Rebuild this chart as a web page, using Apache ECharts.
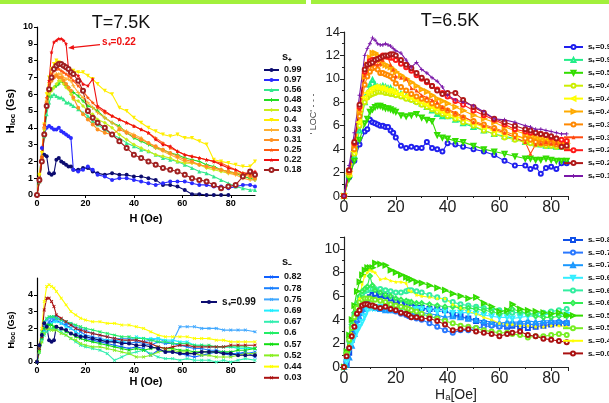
<!DOCTYPE html>
<html>
<head>
<meta charset="utf-8">
<script src="https://cdn.jsdelivr.net/npm/echarts@6/dist/echarts.min.js"></script>
<style>
html, body { margin: 0; padding: 0; background: #fff; }
#chart { width: 609px; height: 403px; }
</style>
</head>
<body>
<div id="chart"></div>
<script>
// ---------- top left: T=7.5K, s+ ----------
const hTL = [0,1,2,3,4,5,6,7,8,9,10,11,12,13,14,15,17,19,21,23,25,28,31,34,37,40,43,46,49,52,55,58,61,64,67,70,73,76,79,82,85,88,90];
const tlLabels = ['0.99','0.97','0.56','0.48','0.43','0.4','0.33','0.31','0.25','0.22','0.18'];
const tl099 = [0,1.0,2.0,2.4,2.3,1.3,1.2,1.3,2.1,2.2,2.0,1.9,1.8,1.7,1.7,1.5, 1.5,1.6,1.6,1.4,1.3, 1.2,1.3,1.2,1.2,1.1,1.1,1.0,0.9,0.6,0.6,0.5,0.3,0.05,0.05,0.0,0.0,0.0,0.0,null,null,null, null];
const tl097 = [0,1.0,2.8,3.6,4.0,4.1,4.0,3.9,3.9,4.0,3.8,3.7,3.6,3.5,3.4,1.5, 1.4,1.5,1.7,1.5,1.2, 1.1,0.9,1.0,1.0,0.9,0.8,0.7,0.6,0.7,0.8,0.8,0.8,0.7,0.6,0.6,0.5,0.5,0.4,0.5,0.6,0.6, 0.5];
const tl056 = [0,0.8,2.0,3.5,4.8,5.5,5.9,6.0,5.9,5.8,5.8,5.7,5.5,5.5,5.4,5.3, 5.1,4.9,4.7,4.4,4.2, 3.9,3.6,3.4,3.1,2.9,2.7,2.6,2.4,2.2,2.1,2.0,1.8,1.6,1.4,1.3,1.1,0.9,0.7,0.5,0.4,0.3, 0.3];
const tl048 = [0,0.9,2.1,3.7,5.2,5.9,6.3,6.4,6.5,6.6,6.8,6.7,6.5,6.4,6.2,6.1, 5.9,5.6,5.3,5.2,5.0, 4.6,4.3,4.1,3.7,3.4,3.2,3.0,2.8,2.7,2.5,2.4,2.2,2.1,2.0,1.8,1.7,1.5,1.4,1.3,1.1,1.0, 0.9];
const tl043 = [0,1.2,2.3,3.9,5.4,6.0,6.2,6.4,6.6,6.8,6.8,6.6,6.4,6.3,6.0,5.7, 5.6,5.3,5.0,4.8,4.5, 4.3,4.0,3.6,3.3,3.0,2.8,2.6,2.4,2.3,2.2,2.0,1.9,1.9,1.8,1.6,1.5,1.4,1.3,1.3,1.3,1.2, 1.2];
const tl040 = [0,1.2,2.5,4.2,6.0,7.0,7.5,7.8,8.0,7.9,7.8,7.6,7.6,7.5,7.4,7.4, 7.3,7.3,7.1,6.9,6.6, 6.2,6.0,5.2,5.0,4.6,4.3,4.0,3.8,3.6,3.5,3.6,3.4,3.4,3.2,3.0,2.1,2.0,1.9,1.8,1.7,1.7, 2.0];
const tl033 = [0,1.0,2.2,4.0,5.6,6.4,6.9,7.1,7.2,7.2,7.2,7.0,6.9,6.9,6.8,6.5, 6.1,5.8,5.5,5.2,4.9, 4.6,4.3,4.0,3.8,3.6,3.4,3.1,2.8,2.6,2.4,2.2,2.0,1.9,1.8,1.7,1.6,1.5,1.3,1.2,1.0,0.9, 0.9];
const tl031 = [0,1.0,2.2,4.0,5.5,6.3,6.8,7.0,7.1,7.0,7.0,6.8,6.6,6.4,6.2,5.8, 5.2,4.8,4.5,4.2,3.9, 3.7,3.6,3.9,3.7,3.5,3.3,3.1,2.9,2.7,2.5,2.3,2.1,2.0,1.8,1.7,1.6,1.5,1.4,1.3,1.2,1.1, 1.0];
const tl025 = [0,1.0,2.3,4.2,5.8,6.7,7.2,7.4,7.5,7.5,7.4,7.3,7.2,7.1,7.0,6.8, 6.5,6.2,5.8,5.5,5.2, 4.9,4.7,4.5,4.3,4.1,3.9,3.7,3.4,3.1,2.8,2.6,2.4,2.3,2.2,2.1,2.0,1.9,1.7,1.5,1.3,1.2, 1.3];
const tl022 = [0,0.8,2.0,3.6,5.4,6.8,8.5,9.1,9.2,9.3,9.3,9.2,9.0,7.5,7.4,7.3, 7.1,6.6,6.5,6.9,5.3, 5.0,4.7,4.5,4.3,4.1,3.9,3.7,3.3,3.0,2.9,2.6,2.4,2.3,2.2,2.1,2.0,1.8,1.6,1.5,1.3,1.3, 1.4];
const tl018 = [0,0.9,2.0,3.6,5.3,6.3,7.0,7.5,7.7,7.8,7.8,7.7,7.6,7.5,7.3,7.2, 6.8,6.2,5.0,4.6,4.3, 4.0,3.6,3.2,2.8,2.4,2.2,2.0,1.8,1.6,1.5,1.4,1.2,1.0,0.9,0.8,0.6,0.4,0.5,0.6,1.1,1.4, 1.2];
const tlValues = [tl099, tl097, tl056, tl048, tl043, tl040, tl033, tl031, tl025, tl022, tl018];

// ---------- top right: T=6.5K, s+ ----------
const hTR = [0,2,4,6,8, 9,10,11,12,13,14,15,16,17,18,19,20, 22,24,26,28,30,32,34,36,38,40, 43,46,50,54,58,62,66,70,72,74,76,78,80,82,84,86];
const trLabels = ['s₊=0.9','s₊=0.9','s₊=0.5','s₊=0.4','s₊=0.4','s₊=0.4','s₊=0.3','s₊=0.3','s₊=0.2','s₊=0.2','s₊=0.1'];
const tr1 = [0,1.6,3.0,4.4,5.5, 5.7,6.5,6.3,6.2,6.1,6.0,6.0,5.9,5.9,5.6,5.4,5.0, 4.3,4.1,4.2,4.1,4.1,4.6,4.1,4.0,3.8,4.5, 4.4,4.2,4.0,3.8,3.5,3.0,2.6,2.6,2.3,2.5,1.9,2.4,2.5,2.3,2.8,2.8];
const tr2 = [0,1.8,3.4,5.6,8.0, 8.8,9.5,9.9,9.5,9.3,9.3,9.4,9.3,9.2,9.2,9.0,8.9, 8.7,8.5,8.3,8.1,7.9,7.6,7.3,7.0,6.8,6.8, 6.5,6.2,5.9,5.6,5.3,5.1,4.9,4.6,4.6,4.5,4.4,4.3,4.3,4.2,4.2,4.2];
const tr3 = [0,1.5,3.0,4.8,6.2, 6.6,7.2,7.4,7.6,7.7,7.7,7.6,7.5,7.5,7.4,7.3,7.2, 6.9,6.8,6.9,7.0,6.7,6.5,6.4,5.2,5.0,4.9, 4.7,4.6,4.3,4.0,3.8,3.6,3.4,3.2,3.2,3.1,3.1,3.2,3.1,3.0,3.0,3.0];
const tr4 = [0,1.8,3.6,6.0,8.0, 8.4,8.6,8.7,8.8,8.9,8.9,8.9,8.8,8.8,8.7,8.7,8.6, 8.5,8.3,8.2,8.0,7.8,7.6,7.4,7.2,7.0,6.8, 6.6,6.3,6.0,5.6,5.3,5.0,4.8,4.6,4.5,4.4,4.4,4.3,4.3,4.2,4.2,4.1];
const tr5 = [0,1.9,3.8,6.3,8.4, 8.8,9.0,9.2,9.3,9.3,9.2,9.2,9.1,9.0,9.0,8.9,8.8, 8.7,8.5,8.4,8.2,8.0,7.8,7.6,7.4,7.2,7.0, 6.8,6.6,6.2,5.9,5.6,5.3,5.1,4.9,4.8,4.7,4.7,4.6,4.6,4.5,4.5,4.6];
const tr6 = [0,2.1,4.3,7.2,10.2, 11.2,11.8,12.2,12.2,12.0,11.6,11.3,11.2,11.1,11.0,10.8,10.6, 10.3,10.0,9.7,9.4,9.1,8.9,8.6,8.3,8.1,7.9, 7.6,7.3,6.9,6.6,6.3,5.9,5.6,5.3,5.2,5.0,4.9,4.9,4.8,4.7,4.6,4.5];
const tr7 = [0,2.0,4.0,6.8,9.5, 10.2,10.6,10.9,11.0,10.8,10.5,10.5,10.4,10.3,10.2,10.0,9.6, 9.3,9.0,8.7,8.5,8.3,8.2,7.9,7.7,7.5,7.3, 7.0,6.7,6.4,6.1,5.8,5.5,5.2,4.9,4.8,4.6,4.5,4.5,4.5,4.4,4.3,4.1];
const tr8 = [0,2.2,4.4,7.4,10.3, 11.0,11.5,11.4,11.3,11.2,11.3,11.6,12.0,11.8,11.2,10.8,10.2, 10.1,10.0,9.2,9.0,8.6,8.4,8.2,8.0,7.6,7.4, 7.1,6.8,6.3,6.0,5.7,5.4,5.0,4.6,3.6,4.4,4.5,4.6,4.5,4.5,4.4,4.3];
const tr9 = [0,2.2,4.5,7.6,10.6, 11.2,11.5,11.6,11.6,11.7,11.8,12.0,11.9,11.9,11.8,11.8,11.6, 11.3,11.0,10.7,10.3,10.0,9.7,9.4,9.1,8.8,8.5, 8.1,7.8,7.3,6.9,6.5,6.1,5.7,5.5,5.4,5.4,5.3,5.2,5.0,4.9,4.8,4.7];
const tr10 = [0,2.2,4.6,7.8,10.8, 11.2,11.3,11.4,11.6,11.7,11.8,11.9,12.0,12.0,12.1,12.1,12.0, 11.6,11.2,10.9,10.5,10.1,9.8,9.4,9.0,8.7,8.8, 8.8,8.2,7.6,7.1,6.6,6.3,6.0,5.7,5.6,5.4,5.3,5.2,5.1,4.9,4.2,4.3];
const tr11 = [0,2.6,5.4,8.6,12.0, 12.6,13.0,13.5,13.3,13.0,12.9,12.9,13.0,12.9,12.8,12.6,12.4, 12.2,11.6,11.0,11.4,10.8,10.5,10.1,9.8,9.3,8.6, 8.2,8.0,7.7,7.2,6.6,6.5,6.3,6.0,5.9,5.7,5.7,5.6,5.5,5.4,5.3,5.3];
const trValues = [tr1, tr2, tr3, tr4, tr5, tr6, tr7, tr8, tr9, tr10, tr11];

// ---------- bottom left: T=7.5K, s- ----------
const hBL = [0,1,2,3,4,5,6,7,8, 10,12,14,16,18,20, 23,26,29,32,35,38,41,44,47,50,53,56,59,62,65,68,71,74,77,80,83,86, 90];
const blLabels = ['0.82','0.78','0.75','0.69','0.67','0.6','0.57','0.52','0.44','0.03'];
const bl082 = [0,0.8,1.5,2.0,2.2,2.3,2.4,2.5,2.5, 2.3,2.2,2.0,1.8,1.6,1.4, 1.3,1.2,1.1,1.0,0.9,0.8,0.9,0.8,0.4,0.7,0.6,0.6,0.5,0.4,0.3,0.4,0.5,0.6,0.5,0.4,0.5,0.6, 0.3];
const bl078 = [0,0.7,1.4,1.9,2.1,2.4,2.6,2.7,2.7, 2.5,2.3,2.2,2.0,1.8,1.6, 1.5,1.4,1.3,1.3,1.2,1.1,1.2,1.1,1.0,1.2,1.1,1.1,1.0,0.9,0.8,0.8,0.7,0.7,0.6,0.5,0.5,0.5, 0.6];
const bl075 = [0,0.8,1.6,2.2,2.5,2.6,2.6,2.6,2.5, 2.5,2.4,2.3,2.1,2.0,1.9, 1.7,1.6,1.5,1.4,1.4,1.4,1.3,1.2,1.3,1.4,1.2,1.2,2.1,2.1,2.1,2.0,2.0,2.0,1.9,1.9,1.9,1.9, 1.8];
const bl069 = [0,0.6,1.3,1.8,2.1,2.2,2.3,2.4,2.4, 2.3,2.1,2.0,1.8,1.6,1.5, 1.4,1.3,1.3,1.2,1.2,1.3,1.5,1.4,1.4,1.4,1.3,1.3,1.2,1.2,1.0,1.0,0.9,0.9,0.9,0.9,0.8,0.8, 0.8];
const bl067 = [0,0.6,1.2,1.6,1.8,1.9,2.0,2.0,2.0, 1.8,1.6,1.4,1.2,1.0,0.9, 0.8,0.7,0.5,0.1,0.3,0.5,0.6,0.7,0.5,0.3,0.2,0.2,0.1,0.2,0.1,0.1,0.1,0.0,0.1,0.0,0.1,0.2, 0.1];
const bl060 = [0,0.9,1.8,2.4,2.6,2.7,2.7,2.7,2.6, 2.5,2.4,2.3,2.2,2.1,2.0, 1.9,1.8,1.7,1.6,1.5,1.5,1.4,1.4,1.3,1.2,1.2,1.1,1.1,1.1,1.0,1.0,1.0,0.9,0.9,0.9,0.9,0.9, 0.8];
const bl057 = [0,0.7,1.4,2.0,2.2,2.2,2.2,2.1,2.1, 2.0,1.8,1.7,1.5,1.4,1.3, 1.2,1.1,1.0,0.9,0.8,0.7,0.8,0.7,0.8,0.9,0.8,0.8,0.7,0.7,0.6,0.6,0.6,0.6,0.6,0.6,0.7,0.7, 0.8];
const bl052 = [0,0.6,1.2,1.7,2.0,2.0,1.9,1.9,1.9, 1.7,1.6,1.4,1.3,1.1,1.0, 0.9,0.9,0.8,0.7,0.6,0.5,0.3,0.3,0.4,0.6,0.7,0.7,0.6,0.6,0.5,0.4,0.4,0.3,0.3,0.3,0.4,0.5, 0.5];
const bl044 = [0,1.0,2.0,3.6,4.5,4.6,4.5,4.4,4.2, 3.8,3.4,3.0,2.8,2.6,2.5, 2.4,2.4,2.3,2.3,2.2,2.2,2.1,2.0,1.8,1.6,1.5,1.5,1.5,1.5,1.4,1.4,1.4,1.3,1.3,1.2,1.2,1.2, 1.2];
const bl003 = [0,0.8,1.5,3.1,3.8,3.8,3.6,3.3,2.8, 2.6,2.4,2.2,2.0,1.9,1.8, 1.7,1.6,1.5,1.4,1.3,1.3,1.3,1.2,1.1,0.9,0.8,0.9,1.0,1.0,0.9,0.9,0.9,0.9,0.9,1.0,1.0,1.0, 1.0];
const blValues = [bl082, bl078, bl075, bl069, bl067, bl060, bl057, bl052, bl044, bl003];
const blPlus099 = [0,1.0,1.6,2.3,2.1,1.3,1.2,1.3,2.1, 2.0,1.9,1.7,1.6,1.5,1.5, 1.4,1.3,1.2,1.2,1.1,1.1,1.0,1.0,0.9,0.8,0.6,0.6,0.5,0.5,0.5,0.6,0.6,0.6,0.5,0.5,0.4,0.4, 0.4];

// ---------- bottom right: T=6.5K, s- ----------
const hBR = [0,1,2,3,4,5,6,7,8,9,10,11,12, 14,16,18,20,22,24, 25,26, 28,30, 33,36,39,42,45,48,51,54,57,60,63, 65,68,71,74,77,80,83,86];
const brLabels = ['s₋=0.8','s₋=0.7','s₋=0.7','s₋=0.6','s₋=0.6','s₋=0.6','s₋=0.5','s₋=0.5','s₋=0.4','s₋=0.0'];
const br1 = [0,0.3,1.2,2.3,3.2,4.0,4.6,5.0,5.4,5.7,5.9,6.1,6.2, 6.1,6.0,5.8,5.6,5.4,5.3, 5.2,5.1, 5.0,5.0, 4.9,4.9,4.8,4.4,4.3,4.1,3.9,3.7,3.6,3.5,3.4, 3.5,3.4,3.3,3.4,3.5,3.6,3.7,3.7];
const br2 = [0,0.5,1.5,2.5,3.3,4.0,4.5,4.8,5.0,5.0,5.1,5.1,5.1, 5.0,4.9,4.8,4.7,4.5,4.4, 4.3,4.2, 4.1,4.0, 3.7,3.4,3.1,2.9,3.1,3.1,3.3,3.4,3.5,3.4,3.5, 3.6,3.7,3.6,3.6,3.7,3.8,3.8,3.7];
const br3 = [0,0.2,0.8,1.8,2.8,3.6,4.2,4.6,4.9,5.1,5.2,5.1,5.0, 4.9,4.8,4.8,4.8,4.7,4.6, 4.6,4.5, 4.5,4.6, 4.5,4.4,4.2,4.3,4.2,4.1,4.0,3.9,3.8,3.7,3.8, 3.8,3.8,3.9,3.8,3.9,3.9,3.9,3.8];
const br4 = [0,0.4,1.4,2.0,2.5,3.0,3.4,3.8,4.3,4.8,5.0,5.0,5.0, 5.1,5.1,5.0,5.0,4.9,4.9, 4.8,4.8, 4.9,4.9, 4.8,4.7,4.7,4.6,4.6,4.6,4.5,4.4,4.3,4.2,4.2, 4.1,4.2,4.3,4.3,4.4,4.5,4.5,4.4];
const br5 = [0,1.0,2.2,3.4,4.4,5.2,5.8,6.2,6.4,6.5,6.6,6.6,6.6, 6.6,6.5,6.4,6.3,6.3,6.4, 6.5,6.5, 6.4,6.3, 6.1,5.9,5.7,5.5,5.3,5.2,5.1,5.0,4.9,4.8,4.7, 4.6,4.6,4.5,4.5,4.6,4.7,4.8,4.9];
const br6 = [0,1.2,2.5,3.6,4.6,5.4,6.0,6.4,6.6,6.8,7.7,6.9,6.5, 6.3,6.1,6.0,5.8,5.7,5.6, 5.5,5.5, 5.4,5.4, 5.3,5.2,5.1,5.1,5.0,5.0,4.9,4.8,4.7,4.5,4.6, 4.9,4.7,4.5,4.3,4.2,4.2,4.3,4.3];
const br7 = [0,1.3,2.7,4.0,5.2,6.4,7.2,7.8,8.2,8.4,8.4,8.4,8.8, 8.7,8.6,8.2,8.0,7.8,7.6, 7.5,7.4, 7.2,7.1, 6.9,6.7,6.5,6.2,6.0,5.8,5.9,5.4,5.1,4.7,4.8, 5.3,4.9,4.8,4.7,4.6,4.5,4.6,4.4];
const br8 = [0,1.1,2.3,3.3,4.2,5.0,5.5,5.7,5.8,5.8,5.8,5.7,5.7, 5.6,5.5,5.3,5.2,5.1,5.0, 4.9,4.8, 4.7,4.5, 4.3,4.1,3.9,3.7,3.5,3.4,3.3,3.1,3.0,2.9,2.9, 2.8,2.7,2.5,2.6,2.6,2.7,2.8,2.7];
const br9 = [0,0.9,1.8,2.8,3.6,4.6,5.8,7.0,7.7,8.0,8.2,8.1,8.0, 7.4,7.5,7.3,7.2,7.2,7.1, 6.5,6.4, 6.1,6.0, 5.9,5.8,5.8,5.3,5.0,4.7,4.5,4.2,4.0,3.7,3.6, 3.6,3.5,3.5,3.4,3.4,3.5,3.5,3.4];
const br10 = [0,0.9,1.6,2.6,3.4,4.5,4.8,5.2,5.3,5.3,5.2,5.2,5.1, 5.0,5.1,4.9,4.8,4.6,4.5, 4.4,4.2, 4.2,4.1, 4.1,3.9,3.6,3.1,3.2,3.2,3.0,2.9,2.8,2.6,2.8, 2.9,3.0,2.7,2.6,2.4,2.3,2.2,2.1];
const brValues = [br1, br2, br3, br4, br5, br6, br7, br8, br9, br10];

// styles
const STAR = 'path://M0,-10L2.9,-4L9.5,-3.1L4.7,1.5L5.9,8.1L0,5L-5.9,8.1L-4.7,1.5L-9.5,-3.1L-2.9,-4Z';
const PLUS = 'path://M-2,-9H2V-2H9V2H2V9H-2V2H-9V-2H-2Z';
const tlColors = ['#0c0c70','#2a2aff','#33e88c','#22dd22','#c8ee1a','#ffee00','#ffb030','#ff9020','#ff5a10','#ee1010','#a02020'];
const tlSymbols = [['circle',0],['circle',0],['triangle',0],[PLUS,0],['diamond',0],['triangle',180],[PLUS,0],['circle',0],[STAR,0],[STAR,0],['emptyCircle',0]];
const trColors = ['#2020ee','#22ee88','#33dd00','#ccee00','#ffff00','#ffaa00','#ff8800','#ff4a10','#ff1a1a','#b01818','#7a18a8'];
const trSymbols = [['emptyCircle',0],['emptyTriangle',0],['emptyTriangle',180],['emptyCircle',0],['emptyTriangle',90],['emptyTriangle',-90],['emptyCircle',0],['triangle',0],['emptyCircle',0],['emptyCircle',0],[PLUS,0]];
const blColors = ['#1060ff','#1a80ff','#40a8ff','#22eeff','#33eeb0','#22ee66','#11dd11','#88ee22','#ffff00','#aa1111'];
const brColors = ['#1050e8','#2a78ff','#1a98ff','#33eeff','#33eea0','#33ee55','#33dd00','#77ee22','#ffff00','#aa1111'];
const brSymbols = [['emptyRect',0],['emptyCircle',0],['emptyTriangle',0],['emptyTriangle',180],['emptyCircle',0],['emptyDiamond',0],['emptyTriangle',-90],['emptyCircle',0],[STAR,0],['emptyCircle',0]];

const FONT = 'Liberation Sans';

function makeSeries(panel, labels, xs, values, colors, symbols, size) {
  return values.map((ys, i) => ({
    name: labels[i] + '#' + panel + '_' + i,
    type: 'line',
    xAxisIndex: panel,
    yAxisIndex: panel,
    data: xs.map((x, k) => [x, ys[k]]).filter(p => p[1] != null),
    color: colors[i],
    symbol: symbols[i][0],
    symbolRotate: symbols[i][1],
    symbolSize: size,
    lineStyle: { width: 1.1 },
    itemStyle: { borderWidth: 1 },
    animation: false
  }));
}

const series = []
  .concat(makeSeries(0, tlLabels, hTL, tlValues, tlColors, tlSymbols, 4))
  .concat(makeSeries(1, trLabels, hTR, trValues, trColors, trSymbols, 4))
  .concat(makeSeries(2, blLabels, hBL, blValues, blColors,
    blLabels.map(() => [PLUS, 45]), 4))
  .concat(makeSeries(2, ['s₊=0.99'], hBL, [blPlus099], ['#0c0c70'], [['circle', 0]], 4))
  .concat(makeSeries(3, brLabels, hBR, brValues, brColors, brSymbols, 4));

function namesOf(panel, labels) {
  return labels.map((l, i) => l + '#' + panel + '_' + i);
}

const smallAxis = (min, max, interval) => ({
  type: 'value', min: min, max: max, interval: interval,
  nameLocation: 'middle',
  axisLine: { show: true, lineStyle: { color: '#000', width: 1.2 } },
  axisTick: { show: true, length: 3, lineStyle: { color: '#000' } },
  splitLine: { show: false },
  axisLabel: { color: '#000', fontSize: 9, fontWeight: 'bold', fontFamily: FONT, margin: 4, showMaxLabel: false }
});
const bigAxis = (min, max, interval, fs) => ({
  type: 'value', min: min, max: max, interval: interval,
  nameLocation: 'middle',
  axisLine: { show: true, lineStyle: { color: '#222', width: 1.2 } },
  axisTick: { show: true, length: 4, lineStyle: { color: '#222' } },
  minorTick: { show: true, splitNumber: 2, length: 2, lineStyle: { color: '#222' } },
  splitLine: { show: false },
  axisLabel: { color: '#222', fontSize: fs, fontFamily: FONT, margin: 4, showMaxLabel: false }
});

const xTL = smallAxis(0, 90, 20); xTL.name = 'H (Oe)'; xTL.nameGap = 18;
xTL.nameTextStyle = { fontSize: 11, fontWeight: 'bold', fontFamily: FONT, color: '#000' };
const yTL = smallAxis(0, 10, 1); yTL.axisLabel.showMaxLabel = true; yTL.name = '{a|H}{b|loc}{a| (Gs)}'; yTL.nameGap = 20;
yTL.nameTextStyle = { rich: { a: { fontSize: 11, fontWeight: 'bold', fontFamily: FONT, color: '#000' }, b: { fontSize: 8, fontWeight: 'bold', fontFamily: FONT, color: '#000', padding: [4, 0, 0, 0] } } };

const xBL = smallAxis(0, 90, 20); xBL.name = 'H (Oe)'; xBL.nameGap = 14;
xBL.nameTextStyle = { fontSize: 11, fontWeight: 'bold', fontFamily: FONT, color: '#000' };
const yBL = smallAxis(0, 5, 1); yBL.name = '{a|H}{b|loc}{a| (Gs)}'; yBL.nameGap = 20;
yBL.nameTextStyle = { padding: [0, 20, 0, 0], rich: { a: { fontSize: 9, fontWeight: 'bold', fontFamily: FONT, color: '#000' }, b: { fontSize: 7, fontWeight: 'bold', fontFamily: FONT, color: '#000', padding: [3, 0, 0, 0] } } };

const xTR = bigAxis(0, 86.5, 20, 16);
const yTR = bigAxis(0, 14, 2, 13); yTR.axisLabel.showMaxLabel = true;
yTR.name = "' LOC' - - -"; yTR.nameGap = 26; yTR.nameTextStyle = { fontSize: 9, color: '#444', fontFamily: FONT };
const xBR = bigAxis(0, 86.5, 20, 16); xBR.name = 'Hₐ[Oe]'; xBR.nameGap = 20;
xBR.nameTextStyle = { fontSize: 14, color: '#222', fontFamily: FONT };
const yBR = bigAxis(0, 11, 2, 14);

const legendBase = (gridNames, left, top, gap, iw, fs) => ({
  orient: 'vertical', left: left, top: top, padding: 0,
  itemGap: gap, itemWidth: iw, itemHeight: 5,
  data: gridNames, selectedMode: false,
  formatter: n => n.split('#')[0],
  textStyle: { fontSize: fs, lineHeight: 10, fontWeight: 'bold', fontFamily: FONT, color: '#111' }
});

const option = {
  animation: false,
  grid: [
    { left: 37, top: 27, width: 218, height: 168 },
    { left: 344, top: 32, width: 224, height: 164 },
    { left: 37, top: 278, width: 218, height: 84 },
    { left: 344, top: 237, width: 224, height: 130 }
  ],
  xAxis: [Object.assign(xTL, { gridIndex: 0 }), Object.assign(xTR, { gridIndex: 1 }),
          Object.assign(xBL, { gridIndex: 2 }), Object.assign(xBR, { gridIndex: 3 })],
  yAxis: [Object.assign(yTL, { gridIndex: 0 }), Object.assign(yTR, { gridIndex: 1 }),
          Object.assign(yBL, { gridIndex: 2 }), Object.assign(yBR, { gridIndex: 3 })],
  legend: [
    legendBase(namesOf(0, tlLabels), 263, 65, 0, 15, 9),
    legendBase(namesOf(1, trLabels), 563, 42, 2.9, 19, 8),
    legendBase(namesOf(2, blLabels), 263, 272, 1.2, 15, 9),
    legendBase(['s₊=0.99#2_0'], 200, 297, 0, 16, 10),
    legendBase(namesOf(3, brLabels), 562, 235, 2.6, 20, 8)
  ],
  series: series
};

const chart = echarts.init(document.getElementById('chart'), null, { renderer: 'canvas' });
chart.setOption(option);

// annotation arrow for s+=0.22, placed in data coordinates of the top-left panel
const tip = chart.convertToPixel({ gridIndex: 0 }, [12.8, 8.75]);
const tail = chart.convertToPixel({ gridIndex: 0 }, [26, 8.95]);
const ang = Math.atan2(tip[1] - tail[1], tip[0] - tail[0]);
const ah = 6, aw = 2.5;
const base = [tip[0] - ah * Math.cos(ang), tip[1] - ah * Math.sin(ang)];
const head = [tip, [base[0] + aw * Math.sin(ang), base[1] - aw * Math.cos(ang)], [base[0] - aw * Math.sin(ang), base[1] + aw * Math.cos(ang)]];

chart.setOption({
  graphic: [
    { type: 'rect', shape: { x: 0, y: 0, width: 306, height: 4 }, style: { fill: '#a2f03c' }, silent: true },
    { type: 'rect', shape: { x: 311, y: 0, width: 298, height: 4 }, style: { fill: '#a2f03c' }, silent: true },
    { type: 'text', x: 121, y: 14, style: { text: 'T=7.5K', fontSize: 18, fontFamily: FONT, fill: '#111', textAlign: 'center' } },
    { type: 'text', x: 450, y: 12, style: { text: 'T=6.5K', fontSize: 18, fontFamily: FONT, fill: '#111', textAlign: 'center' } },
    { type: 'text', x: 282, y: 51, style: { text: 's₊', fontSize: 11, fontWeight: 'bold', fontFamily: FONT, fill: '#111' } },
    { type: 'text', x: 282, y: 256, style: { text: 's₋', fontSize: 11, fontWeight: 'bold', fontFamily: FONT, fill: '#111' } },
    { type: 'line', shape: { x1: tail[0], y1: tail[1], x2: base[0], y2: base[1] }, style: { stroke: '#ee1010', lineWidth: 1.2 } },
    { type: 'polygon', shape: { points: head }, style: { fill: '#ee1010' } },
    { type: 'text', x: tail[0] + 2, y: tail[1] - 2, style: { text: 's₊=0.22', fontSize: 10, fontWeight: 'bold', fontFamily: FONT, fill: '#ee1010', verticalAlign: 'middle' } }
  ]
});
</script>
</body>
</html>
